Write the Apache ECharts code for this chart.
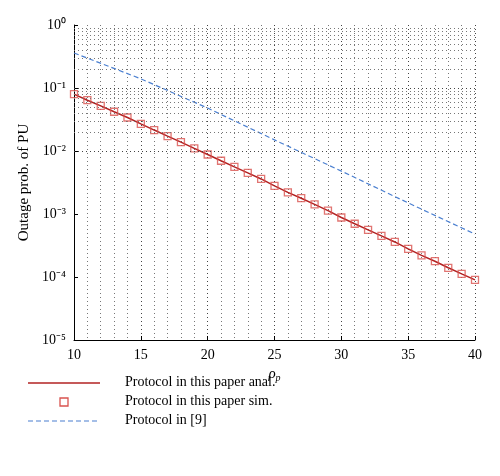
<!DOCTYPE html><html><head><meta charset="utf-8"><script src="https://cdn.jsdelivr.net/npm/echarts@6/dist/echarts.min.js"></script></head><body style="margin:0;background:#fff"><div id="c" style="width:500px;height:476px"></div><script>
const xs=[10,11,12,13,14,15,16,17,18,19,20,21,22,23,24,25,26,27,28,29,30,31,32,33,34,35,36,37,38,39,40];
const redVals=[0.08,0.064,0.052,0.042,0.034,0.027,0.0215,0.0172,0.0138,0.011,0.0088,0.007,0.0056,0.0045,0.0036,0.0028,0.0022,0.00178,0.00142,0.00113,0.00088,0.0007,0.00056,0.00045,0.00036,0.00028,0.00022,0.000178,0.00014,0.000112,0.00009];
const blueX=[10,15,20,25,30,35,40];
const blueVals=[0.36,0.14,0.048,0.015,0.0048,0.0015,0.00048];
const yTickLabels={'1':'10⁰','0.1':'10⁻¹','0.01':'10⁻²','0.001':'10⁻³','0.0001':'10⁻⁴','0.00001':'10⁻⁵'};
const legendNames=['Protocol in this paper anal.','Protocol in this paper sim.','Protocol in [9]'];
const F='Liberation Serif';
const gridY=[];for(let e=-5;e<0;e++)for(let m=1;m<=9;m++){if(e===-5&&m===1)continue;gridY.push({yAxis:m*Math.pow(10,e),lineStyle:{color:m===1?'#444':'#777'}});}
const RED='#b22222',SQ='#d9534f',BLUE='#4a7fd0';
const ch=echarts.init(document.getElementById('c'));
const lx=28,ly=[383,402,421];
ch.setOption({animation:false,
grid:{left:74,right:25,top:25,bottom:136},
xAxis:{type:'value',min:10,max:40,interval:5,axisLine:{show:true,onZero:false,lineStyle:{color:'#000'}},
 axisTick:{inside:true,length:4,lineStyle:{color:'#000'}},axisLabel:{color:'#000',fontFamily:F,fontSize:14,margin:8},
 splitLine:{show:true,lineStyle:{color:'#444',type:[1,3]}},
 minorTick:{show:false,splitNumber:5},minorSplitLine:{show:true,lineStyle:{color:'#777',type:[1,3]}},
 name:'{r|ρ}{s|p}',nameLocation:'middle',nameGap:24,nameTextStyle:{rich:{r:{fontFamily:F,fontStyle:'italic',fontSize:15,color:'#000'},s:{fontFamily:F,fontStyle:'italic',fontSize:10,color:'#000',verticalAlign:'bottom',padding:[8,0,0,0]}}}},
yAxis:{type:'log',min:1e-5,max:1,logBase:10,axisLine:{show:true,lineStyle:{color:'#000'}},
 axisTick:{show:true,inside:true,length:4,lineStyle:{color:'#000'}},
 axisLabel:{color:'#000',fontFamily:F,fontSize:14,formatter:v=>yTickLabels[String(+(+v).toPrecision(3))]||''},
 splitLine:{show:false},
 name:'Outage prob. of PU',nameLocation:'middle',nameGap:40,nameTextStyle:{fontFamily:F,fontSize:15,color:'#000'}},
graphic:[
 {type:'line',shape:{x1:lx,y1:ly[0],x2:lx+72,y2:ly[0]},style:{stroke:RED,lineWidth:1.5}},
 {type:'rect',shape:{x:lx+32,y:ly[1]-4,width:8,height:8},style:{fill:'none',stroke:SQ,lineWidth:1.3}},
 {type:'line',shape:{x1:lx,y1:ly[2],x2:lx+72,y2:ly[2]},style:{stroke:BLUE,lineWidth:1.2,lineDash:[5,3]}},
 ...legendNames.map((n,i)=>({type:'text',left:125,top:ly[i]-8,style:{text:n,font:'14px '+F,fill:'#000'}}))
],
series:[
{name:legendNames[0],type:'line',data:xs.map((x,i)=>[x,redVals[i]]),symbol:'none',lineStyle:{color:RED,width:1.5},z:3,
 markLine:{symbol:'none',silent:true,label:{show:false},animation:false,lineStyle:{color:'#777',type:[1,3],width:1},data:gridY}},
{name:legendNames[1],type:'scatter',data:xs.map((x,i)=>[x,redVals[i]]),symbol:'rect',symbolSize:7,z:4,itemStyle:{color:'rgba(255,255,255,0)',borderColor:SQ,borderWidth:1.3}},
{name:legendNames[2],type:'line',data:blueX.map((x,i)=>[x,blueVals[i]]),symbol:'none',lineStyle:{color:BLUE,width:1.2,type:[5,3]},z:3}
]});
</script></body></html>
